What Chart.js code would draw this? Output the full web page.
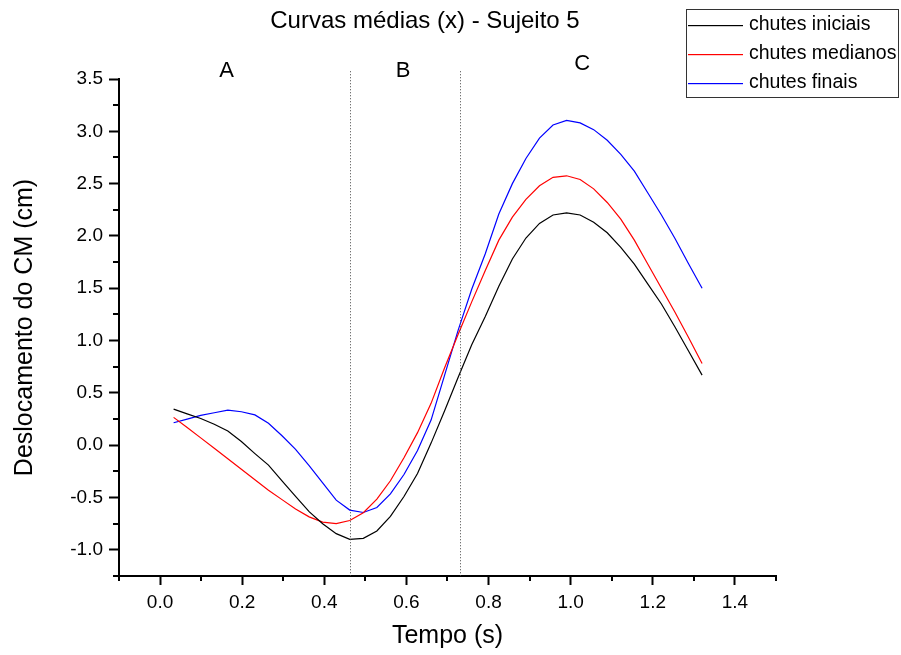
<!DOCTYPE html>
<html>
<head>
<meta charset="utf-8">
<title>Curvas médias (x) - Sujeito 5</title>
<script src="https://cdn.jsdelivr.net/npm/chart.js@4"></script>
<style>
  html, body { margin: 0; padding: 0; background: #fff; }
  #wrap { width: 901px; height: 655px; }
</style>
</head>
<body>
<div id="wrap"><canvas id="chart"></canvas></div>
<script>
// Time samples (s)
const tempo = [0.033, 0.066, 0.099, 0.132, 0.165, 0.198, 0.231, 0.264, 0.297, 0.330,
               0.363, 0.396, 0.429, 0.462, 0.495, 0.528, 0.561, 0.594, 0.627, 0.660,
               0.693, 0.726, 0.759, 0.792, 0.825, 0.858, 0.891, 0.924, 0.957, 0.990,
               1.023, 1.056, 1.089, 1.122, 1.155, 1.188, 1.221, 1.254, 1.287, 1.320];

// Mean CM displacement (cm)
const chutesIniciais = [0.345, 0.30, 0.255, 0.20, 0.135, 0.035, -0.08, -0.19, -0.34, -0.49,
                        -0.635, -0.75, -0.845, -0.90, -0.89, -0.82, -0.68, -0.49, -0.27, 0.02,
                        0.33, 0.65, 0.96, 1.23, 1.52, 1.78, 1.98, 2.12, 2.20, 2.22,
                        2.20, 2.13, 2.03, 1.89, 1.73, 1.54, 1.35, 1.13, 0.90, 0.67];
const chutesMedianos = [0.266, 0.17, 0.07, -0.03, -0.13, -0.23, -0.33, -0.43, -0.52, -0.61,
                        -0.685, -0.735, -0.75, -0.72, -0.645, -0.515, -0.34, -0.12, 0.12, 0.40,
                        0.74, 1.06, 1.37, 1.67, 1.96, 2.18, 2.35, 2.48, 2.56, 2.575,
                        2.54, 2.45, 2.32, 2.16, 1.96, 1.73, 1.50, 1.27, 1.03, 0.78];
const chutesFinais = [0.215, 0.25, 0.285, 0.31, 0.335, 0.32, 0.29, 0.21, 0.09, -0.04,
                      -0.195, -0.36, -0.525, -0.62, -0.643, -0.595, -0.465, -0.28, -0.05, 0.24,
                      0.67, 1.10, 1.49, 1.83, 2.21, 2.50, 2.74, 2.935, 3.06, 3.105,
                      3.08, 3.016, 2.914, 2.78, 2.62, 2.41, 2.20, 1.975, 1.735, 1.50];

const seriesLabels = ['chutes iniciais', 'chutes medianos', 'chutes finais'];
const seriesColors = ['#000000', '#ff0000', '#0000ff'];

// Axis ticks
const xTicks = [0.0, 0.2, 0.4, 0.6, 0.8, 1.0, 1.2, 1.4];
const xMinorTicks = [-0.1, 0.1, 0.3, 0.5, 0.7, 0.9, 1.1, 1.3, 1.5];
const yTicks = [-1.0, -0.5, 0.0, 0.5, 1.0, 1.5, 2.0, 2.5, 3.0, 3.5];
const yMinorTicks = [-1.25, -0.75, -0.25, 0.25, 0.75, 1.25, 1.75, 2.25, 2.75, 3.25];

// Phase dividers and labels
const dividerX = [0.463, 0.731];
const phaseLabels = ['A', 'B', 'C'];
const phaseX = [0.162, 0.592, 1.028];
const phaseY = [3.574, 3.574, 3.646];

const FONT = '"Liberation Sans", Arial, sans-serif';

function toPoints(ys) {
    return tempo.map((t, i) => ({ x: t, y: ys[i] }));
}

// Draws minor ticks, dotted dividers, phase letters, title and legend box
const decorPlugin = {
    id: 'decor',
    afterDraw(chart) {
        const ctx = chart.ctx;
        const xs = chart.scales.x;
        const ys = chart.scales.y;
        const area = chart.chartArea;

        ctx.save();
        ctx.strokeStyle = '#000';
        ctx.lineWidth = 2;
        ctx.beginPath();
        xMinorTicks.forEach(v => {
            const px = Math.round(xs.getPixelForValue(v));
            ctx.moveTo(px, area.bottom);
            ctx.lineTo(px, area.bottom + 5);
        });
        yMinorTicks.forEach(v => {
            const py = Math.round(ys.getPixelForValue(v));
            ctx.moveTo(area.left, py);
            ctx.lineTo(area.left - 6, py);
        });
        ctx.stroke();

        // dotted dividers
        ctx.strokeStyle = '#444';
        ctx.lineWidth = 1;
        ctx.setLineDash([1, 2]);
        ctx.beginPath();
        dividerX.forEach(v => {
            const px = Math.round(xs.getPixelForValue(v)) + 0.5;
            ctx.moveTo(px, ys.getPixelForValue(phaseY[0]));
            ctx.lineTo(px, area.bottom);
        });
        ctx.stroke();
        ctx.setLineDash([]);

        // phase letters
        ctx.fillStyle = '#000';
        ctx.font = '22px ' + FONT;
        ctx.textAlign = 'center';
        ctx.textBaseline = 'middle';
        phaseLabels.forEach((lab, i) => {
            ctx.fillText(lab, xs.getPixelForValue(phaseX[i]), ys.getPixelForValue(phaseY[i]));
        });

        // title
        ctx.font = '24px ' + FONT;
        ctx.fillText('Curvas médias (x) - Sujeito 5', 425, 21);

        // legend
        ctx.strokeStyle = '#333';
        ctx.lineWidth = 1;
        ctx.strokeRect(686.5, 9.5, 212, 88);
        ctx.font = '19.5px ' + FONT;
        ctx.textAlign = 'left';
        seriesLabels.forEach((lab, i) => {
            const y = 25 + i * 29;
            ctx.fillStyle = seriesColors[i];
            ctx.fillRect(688, y, 55, 1.2);
            ctx.fillStyle = '#000';
            ctx.fillText(lab, 749, y);
        });
        ctx.restore();
    }
};

const ctx = document.getElementById('chart');
new Chart(ctx, {
    type: 'scatter',
    data: {
        datasets: [chutesIniciais, chutesMedianos, chutesFinais].map((ys, i) => ({
            label: seriesLabels[i],
            data: toPoints(ys),
            showLine: true,
            borderColor: seriesColors[i],
            backgroundColor: seriesColors[i],
            borderWidth: 1.2,
            pointRadius: 0,
            tension: 0
        }))
    },
    options: {
        responsive: true,
        maintainAspectRatio: false,
        animation: false,
        layout: { padding: { top: 79, right: 125, left: 0, bottom: 0 } },
        plugins: {
            legend: { display: false },
            title: { display: false },
            tooltip: { enabled: false }
        },
        scales: {
            x: {
                type: 'linear',
                min: -0.1,
                max: 1.5,
                afterBuildTicks: scale => { scale.ticks = xTicks.map(v => ({ value: v })); },
                afterFit: scale => { scale.height = 79; },
                grid: { drawOnChartArea: false, drawTicks: true, tickLength: 9, tickWidth: 2, tickColor: '#000' },
                border: { color: '#000', width: 2 },
                ticks: {
                    color: '#000',
                    padding: 6,
                    font: { family: FONT, size: 19 },
                    callback: v => v.toFixed(1)
                },
                title: {
                    display: true,
                    text: 'Tempo (s)',
                    color: '#000',
                    font: { family: FONT, size: 25 },
                    padding: { top: 0, bottom: 4 }
                }
            },
            y: {
                type: 'linear',
                min: -1.25,
                max: 3.5,
                afterBuildTicks: scale => { scale.ticks = yTicks.map(v => ({ value: v })); },
                afterFit: scale => { scale.width = 119; },
                grid: { drawOnChartArea: false, drawTicks: true, tickLength: 10, tickWidth: 2, tickColor: '#000' },
                border: { color: '#000', width: 2 },
                ticks: {
                    color: '#000',
                    padding: 6,
                    font: { family: FONT, size: 19 },
                    callback: v => v.toFixed(1)
                },
                title: {
                    display: true,
                    text: 'Deslocamento do CM (cm)',
                    color: '#000',
                    font: { family: FONT, size: 25 },
                    padding: { top: 10, bottom: 0 }
                }
            }
        }
    },
    plugins: [decorPlugin]
});
</script>
</body>
</html>
